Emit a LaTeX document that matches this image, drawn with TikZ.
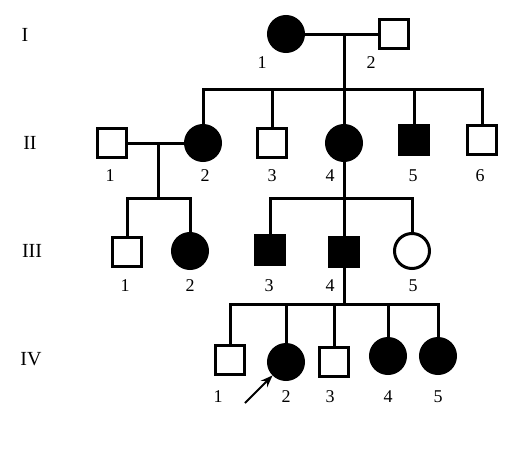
\documentclass[tikz,border=0pt]{standalone}
\usepackage{fontspec}
\setmainfont{Liberation Serif}
\usetikzlibrary{arrows.meta}
\begin{document}
\begin{tikzpicture}[
        x=1pt, y=-1pt,
        line width=3pt,
        male/.style={
          draw,
          rectangle,
          inner sep=0pt,
          minimum size=29pt
        },
        female/.style={
          draw,
          circle,
          inner sep=0pt,
          minimum size=35pt
        },
        ill/.style={fill=black},
        num/.style={font=\fontsize{18}{18}\selectfont, inner sep=0pt},
        gen/.style={font=\fontsize{20}{20}\selectfont, inner sep=0pt}
      ]
      \useasboundingbox (0,0) rectangle (531,448);

      % generation labels
      \node[gen] (g1) at (25,35) {I};
      \node[gen] (g2) at (30,143) {II};
      \node[gen] (g3) at (32,251) {III};
      \node[gen] (g4) at (31,359) {IV};

      % I
      \node[female, ill] (i1) at (286,34) {};
      \node[male] (i2) at (394,34) {};
      \node[num] (n-i1) at (262,63) {1};
      \node[num] (n-i2) at (371,63) {2};

      % II
      \node[male] (ii1) at (112,143) {};
      \node[female, ill] (ii2) at (203,143) {};
      \node[male] (ii3) at (272,143) {};
      \node[female, ill] (ii4) at (344,143) {};
      \node[male, ill] (ii5) at (414,140) {};
      \node[male] (ii6) at (482,140) {};
      \node[num] (n-ii1) at (110,176) {1};
      \node[num] (n-ii2) at (205,176) {2};
      \node[num] (n-ii3) at (272,176) {3};
      \node[num] (n-ii4) at (330,176) {4};
      \node[num] (n-ii5) at (413,176) {5};
      \node[num] (n-ii6) at (480,176) {6};

      % III
      \node[male] (iii1) at (127,252) {};
      \node[female, ill] (iii2) at (190,251) {};
      \node[male, ill] (iii3) at (270,250) {};
      \node[male, ill] (iii4) at (344,252) {};
      \node[female] (iii5) at (412,251) {};
      \node[num] (n-iii1) at (125,286) {1};
      \node[num] (n-iii2) at (190,286) {2};
      \node[num] (n-iii3) at (269,286) {3};
      \node[num] (n-iii4) at (330,286) {4};
      \node[num] (n-iii5) at (413,286) {5};

      % IV
      \node[male] (iv1) at (230,360) {};
      \node[female, ill] (iv2) at (286,362) {};
      \node[male] (iv3) at (334,362) {};
      \node[female, ill] (iv4) at (388,356) {};
      \node[female, ill] (iv5) at (438,356) {};
      \node[num] (n-iv1) at (218,397) {1};
      \node[num] (n-iv2) at (286,397) {2};
      \node[num] (n-iv3) at (330,397) {3};
      \node[num] (n-iv4) at (388,397) {4};
      \node[num] (n-iv5) at (438,397) {5};

      % couples and sibships
      \coordinate (m1) at (344,34);
      \coordinate (s1) at (344,89);
      \draw (i1) -- (i2);
      \draw (m1) -- (s1);
      \draw (ii2.north) |- (s1) -| (ii6.north);
      \draw (ii3.north) -- (ii3.north |- s1);
      \draw (ii4.north) -- (s1);
      \draw (ii5.north) -- (ii5.north |- s1);

      \coordinate (m2) at (158,143);
      \coordinate (s2) at (158,198);
      \draw (ii1.east) -- (ii2.west);
      \draw (m2) -- (s2);
      \draw (iii1.north) |- (s2) -| (iii2.north);

      \coordinate (s3) at (344,198);
      \draw (ii4.south) -- (iii4.north);
      \draw (iii3.north) |- (s3) -| (iii5.north);

      \coordinate (s4) at (344,304);
      \draw (iii4.south) -- (s4);
      \draw (iv1.north) |- (s4) -| (iv5.north);
      \draw (iv2.north) -- (iv2.north |- s4);
      \draw (iv3.north) -- (iv3.north |- s4);
      \draw (iv4.north) -- (iv4.north |- s4);

      % proband
      \coordinate (pointer) at (245,403);
      \draw[-{Stealth[length=12pt, width=9pt]}, line width=2pt] (pointer) -- (iv2);
    \end{tikzpicture}
\end{document}
